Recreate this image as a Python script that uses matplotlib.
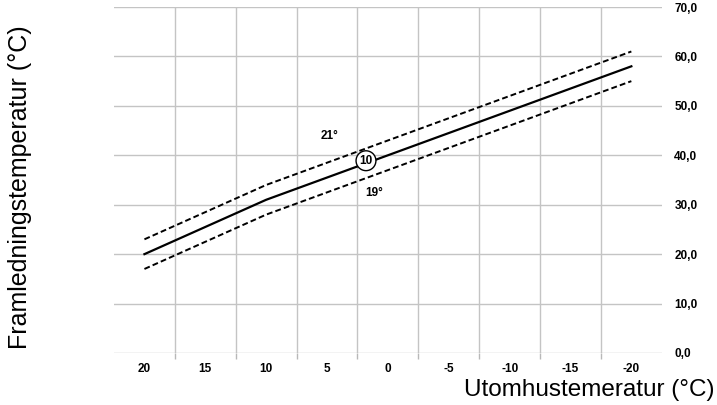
import matplotlib.pyplot as plt
from matplotlib import font_manager
import numpy as np

plt.rcParams['font.family'] = ['Liberation Sans', 'DejaVu Sans']

# outdoor temperature (reversed axis) and supply temperature curves
ute_temp = [20, 10, 0, -10, -20]
kurva_10 = [20, 31, 40, 49, 58]
kurva_21 = [23, 34, 43, 52, 61]
kurva_19 = [17, 28, 37, 46, 55]

x_ticks = [20, 15, 10, 5, 0, -5, -10, -15, -20]
y_ticks = [0, 10, 20, 30, 40, 50, 60, 70]


def fmt_comma(v):
    return ('%.1f' % v).replace('.', ',')


bold_font = font_manager.FontProperties(family='Liberation Sans', weight='bold', size=8.5)

fig = plt.figure(figsize=(7.17, 4.05), dpi=100)
ax = fig.add_axes([0.159, 0.1284, 0.764, 0.8543])

ax.plot(ute_temp, kurva_10, color='black', lw=1.6, zorder=3)
ax.plot(ute_temp, kurva_21, color='black', lw=1.4, ls=(0, (3, 1.6)), zorder=3)
ax.plot(ute_temp, kurva_19, color='black', lw=1.4, ls=(0, (3, 1.6)), zorder=3)

ax.set_xlim(22.5, -22.5)
ax.set_ylim(0, 70)

ax.set_xticks(x_ticks)
ax.set_xticklabels([str(t) for t in x_ticks], fontproperties=bold_font)
ax.set_xticks(np.array(x_ticks[:-1]) - 2.5, minor=True)
ax.tick_params(axis='x', which='major', length=0, pad=7)
ax.tick_params(axis='x', which='minor', length=4, color='#b8b8b8', width=1)
ax.grid(True, which='minor', axis='x', color='#c4c4c4', lw=1)

ax.yaxis.tick_right()
ax.set_yticks(y_ticks)
ax.set_yticklabels([fmt_comma(t) for t in y_ticks], fontproperties=bold_font)
ax.tick_params(axis='y', length=0, pad=9)
ax.grid(True, which='major', axis='y', color='#c4c4c4', lw=1)
ax.set_axisbelow(True)

for s in ax.spines.values():
    s.set_visible(False)

ax.text(4.8, 44, '21°', fontproperties=bold_font, ha='center', va='center')
ax.text(1.1, 32.4, '19°', fontproperties=bold_font, ha='center', va='center')
ax.text(1.8, 38.9, '10', fontproperties=bold_font, ha='center', va='center', zorder=5,
        bbox=dict(boxstyle='circle,pad=0.28', fc='white', ec='black', lw=1))

fig.text(0.028, 0.538, 'Framledningstemperatur (°C)', rotation=90, fontsize=18,
         ha='center', va='center')
fig.text(0.997, 0.037, 'Utomhustemeratur (°C)', fontsize=17.5, ha='right', va='center')

fig.savefig('out.png', dpi=100)
